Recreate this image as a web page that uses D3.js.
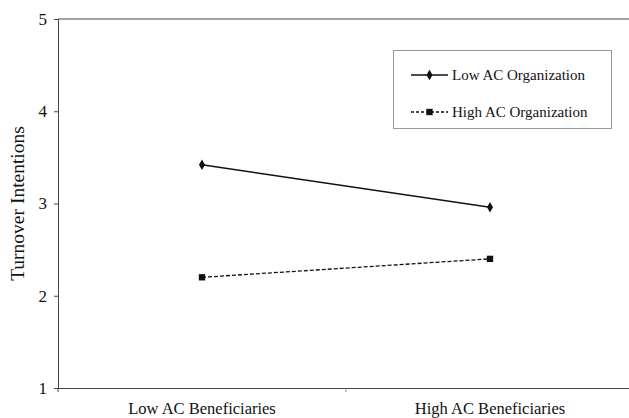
<!DOCTYPE html>
<html><head><meta charset="utf-8">
<script src="https://cdn.jsdelivr.net/npm/d3@7"></script>
<style>body{margin:0;background:#fff}svg{display:block}text{font-family:"Liberation Serif","Times New Roman",serif;fill:#111}</style>
</head><body><svg id="c" width="629" height="418"></svg>
<script>
const categories = ["Low AC Beneficiaries", "High AC Beneficiaries"];
const lowACOrg = [3.42, 2.96];
const highACOrg = [2.20, 2.40];
const seriesNames = ["Low AC Organization", "High AC Organization"];
const yTicks = [1, 2, 3, 4, 5];

(function () {
const svg = d3.select("#c");
const mL = 58, mR = 634, mT = 19, mB = 388;
const x = d3.scaleBand().domain(categories).range([mL, mR]);
const y = d3.scaleLinear().domain([1, 5]).range([mB, mT]);

// top border
svg.append("line").attr("x1", mL).attr("x2", 629).attr("y1", mT).attr("y2", mT)
  .attr("stroke", "#444").attr("stroke-width", 1);

const yAxis = svg.append("g").attr("transform", `translate(${mL},0)`)
  .call(d3.axisLeft(y).tickValues(yTicks).tickFormat(d3.format("d")).tickSize(4).tickPadding(7));
yAxis.selectAll("path,line").attr("stroke", "#444");
yAxis.selectAll("text").attr("font-size", 17).attr("font-family", "Liberation Serif");

const xAxis = svg.append("g").attr("transform", `translate(0,${mB})`)
  .call(d3.axisBottom(x).tickSize(0).tickPadding(14));
xAxis.select("path").attr("stroke", "#444");
xAxis.selectAll("text").attr("font-size", 16.5).attr("font-family", "Liberation Serif");
// category boundary tick marks
svg.selectAll(".bt").data(categories.slice(1)).enter().append("line")
  .attr("x1", d => x(d)).attr("x2", d => x(d)).attr("y1", mB).attr("y2", mB + 4)
  .attr("stroke", "#888");
svg.append("line").attr("x1", mL).attr("x2", mL).attr("y1", mB).attr("y2", mB + 4).attr("stroke", "#444");

svg.append("text").attr("transform", `translate(24,203.5) rotate(-90)`)
  .attr("text-anchor", "middle").attr("font-size", 19.5).text("Turnover Intentions");

const cx = d => x(d) + x.bandwidth() / 2;
const line = d3.line().x((d, i) => cx(categories[i])).y(d => y(d));

svg.append("path").datum(lowACOrg).attr("d", line).attr("fill", "none")
  .attr("stroke", "#111").attr("stroke-width", 1.5);
svg.append("path").datum(highACOrg).attr("d", line).attr("fill", "none")
  .attr("stroke", "#111").attr("stroke-width", 1.3).attr("stroke-dasharray", "4,2");

const diamond = d3.symbol().type(d3.symbolDiamond).size(32);
const square = d3.symbol().type(d3.symbolSquare).size(40);
svg.selectAll(".m1").data(lowACOrg).enter().append("path")
  .attr("d", diamond).attr("transform", (d, i) => `translate(${cx(categories[i])},${y(d)})`).attr("fill", "#111");
svg.selectAll(".m2").data(highACOrg).enter().append("path")
  .attr("d", square).attr("transform", (d, i) => `translate(${cx(categories[i])},${y(d)})`).attr("fill", "#111");

// legend
const lg = svg.append("g");
lg.append("rect").attr("x", 393.5).attr("y", 50.5).attr("width", 218).attr("height", 78)
  .attr("fill", "#fff").attr("stroke", "#999");
const ly = [75, 112];
seriesNames.forEach((n, i) => {
  lg.append("line").attr("x1", 411).attr("x2", 448).attr("y1", ly[i]).attr("y2", ly[i])
    .attr("stroke", "#111").attr("stroke-width", i ? 1.3 : 1.5).attr("stroke-dasharray", i ? "3,2" : null);
  lg.append("path").attr("d", i ? square : diamond).attr("transform", `translate(429.5,${ly[i]})`).attr("fill", "#111");
  lg.append("text").attr("x", 452).attr("y", ly[i]).attr("dy", "0.35em").attr("font-size", 15).text(n);
});
})();
</script></body></html>
